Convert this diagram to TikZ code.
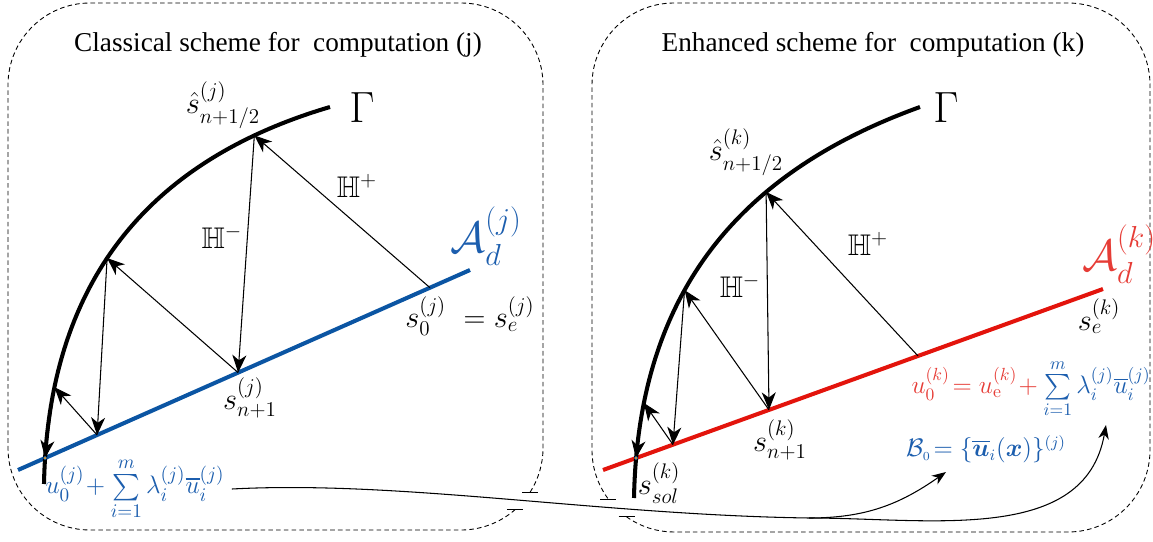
\documentclass[tikz,border=0pt]{standalone}
\usepackage{amsmath,amssymb}
\usepackage{fontspec}
\usepackage{xcolor}
\usepackage{tikz}
\usetikzlibrary{arrows.meta,calc}
\newfontfamily\titlefont{Liberation Serif}
\definecolor{lineblue}{HTML}{0B55A3}
\definecolor{textblue}{HTML}{1C5EAE}
\definecolor{linered}{HTML}{E3140C}
\definecolor{textred}{HTML}{E63C36}
\definecolor{dotorange}{HTML}{F0A020}

\begin{document}
\begin{tikzpicture}[x=0.02cm,y=-0.02cm,
    gamma/.style={line width=2.3pt},
    proj/.style={line width=0.6pt,-{Stealth[length=10pt,width=8pt,inset=3pt]}},
    link/.style={line width=0.6pt},
    linktip/.style={line width=0.6pt,-{Stealth[length=8pt,width=6pt,inset=2.5pt]}},
    boxline/.style={line width=0.5pt,dash pattern=on 2.6pt off 1.8pt},
    boxtick/.style={line width=0.5pt},
    lbl/.style={inner sep=0pt,font=\fontsize{17}{20}\selectfont},
    title/.style={inner sep=0pt,font=\titlefont\fontsize{15.5}{18}\selectfont}]
  \useasboundingbox (0,0) rectangle (1153,541);

  % dashed frames, cut where the link passes
  \coordinate (t1j) at (530.1,492.2);
  \coordinate (t2j) at (514.9,509.8);
  \coordinate (t1k) at (608.2,499);
  \coordinate (t2k) at (626.5,516.8);
  \draw[boxline] (t1j) arc[start angle=32.6,end angle=0,radius=82]
    -- (543,85) arc[start angle=0,end angle=-90,radius=82]
    -- (90,3) arc[start angle=-90,end angle=-180,radius=82]
    -- (8,448) arc[start angle=180,end angle=90,radius=82]
    -- (461,530) arc[start angle=90,end angle=48.9,radius=82];
  \draw[boxline] (t2k) arc[start angle=125.4,end angle=90,radius=82]
    -- (1068,532) arc[start angle=90,end angle=0,radius=82]
    -- (1150,85) arc[start angle=0,end angle=-90,radius=82]
    -- (674,3) arc[start angle=-90,end angle=-180,radius=82]
    -- (592,450) arc[start angle=180,end angle=143.3,radius=82];
  \foreach \p in {t1j,t2j,t1k,t2k}
    \draw[boxtick] ($(\p)+(-8,0)$) -- ($(\p)+(8,0)$);

  \node[title] (titlej) at (278,45) {Classical scheme for\ \ computation (j)};
  \node[title] (titlek) at (873,45) {Enhanced scheme for\ \ computation (k)};

  % computation (j)
  \coordinate (laj) at (18,470);
  \coordinate (lbj) at (470,270);
  \draw[lineblue,line width=2.3pt] (laj) -- (lbj);
  \draw[gamma] (44,484) .. controls (48,280) and (150,160) .. (330,107)
    coordinate[pos=0.17] (c3j) coordinate[pos=0.45] (c2j) coordinate[pos=0.85] (c1j);
  \foreach \name/\t in {l0j/0.9115, l1j/0.487, l2j/0.175, l3j/0.06}
    \coordinate (\name) at ($(laj)!\t!(lbj)$);
  \foreach \a/\b in {l0j/c1j, c1j/l1j, l1j/c2j, c2j/l2j, l2j/c3j, c3j/l3j}
    \draw[proj] (\a) -- (\b);
  \filldraw[fill=dotorange,draw=lineblue,line width=0.3pt] (l3j) circle (1pt);

  \node[lbl] (shatj) at (223,105) {$\hat{s}^{(j)}_{n+1/2}$};
  \node[lbl,font=\fontsize{23}{26}\selectfont] (gamj) at (362,108) {$\Gamma$};
  \node[lbl] (hpj) at (357,186) {$\mathbb{H}^+$};
  \node[lbl] (hmj) at (222,237) {$\mathbb{H}^-$};
  \node[lbl,font=\fontsize{26}{30}\selectfont,text=textblue] (adj) at (486,236) {$\mathcal{A}_d^{(j)}$};
  \node[lbl] (s0j) at (470,316) {$s_0^{(j)}\ = s_e^{(j)}$};
  \node[lbl] (snj) at (250,398) {$s_{n+1}^{(j)}$};
  \node[lbl,font=\fontsize{15}{18}\selectfont,text=textblue] (u0j) at (135,489)
    {$u_0^{(j)}\!+ \sum\limits_{i=1}^{m} \lambda_i^{(j)}\overline{u}_i^{(j)}$};

  % computation (k)
  \coordinate (lak) at (603,470);
  \coordinate (lbk) at (1103,289);
  \draw[linered,line width=2.3pt] (lak) -- (lbk);
  \draw[gamma] (634,498) .. controls (638,292) and (740,172) .. (920,107)
    coordinate[pos=0.165] (c3k) coordinate[pos=0.4] (c2k) coordinate[pos=0.665] (c1k);
  \foreach \name/\t in {l0k/0.63, l1k/0.332, l2k/0.14, l3k/0.066}
    \coordinate (\name) at ($(lak)!\t!(lbk)$);
  \foreach \a/\b in {l0k/c1k, c1k/l1k, l1k/c2k, c2k/l2k, l2k/c3k, c3k/l3k}
    \draw[proj] (\a) -- (\b);
  \filldraw[fill=dotorange,draw=lineblue,line width=0.3pt] (l3k) circle (1pt);

  \node[lbl] (shatk) at (746,152) {$\hat{s}^{(k)}_{n+1/2}$};
  \node[lbl,font=\fontsize{23}{26}\selectfont] (gamk) at (946,108) {$\Gamma$};
  \node[lbl] (hpk) at (868,244) {$\mathbb{H}^+$};
  \node[lbl] (hmk) at (740,286) {$\mathbb{H}^-$};
  \node[lbl,font=\fontsize{26}{30}\selectfont,text=textred] (adk) at (1119,254) {$\mathcal{A}_d^{(k)}$};
  \node[lbl] (sek) at (1099,316) {$s_e^{(k)}$};
  \node[lbl,font=\fontsize{14.5}{17}\selectfont] (u0k) at (1031,389)
    {$\color{textred}u_0^{(k)}\!= u_{\mathrm{e}}^{(k)}\!+ \color{textblue}\sum\limits_{i=1}^{m} \lambda_i^{(j)}\overline{u}_i^{(j)}$};
  \node[lbl,font=\fontsize{13.5}{16}\selectfont,text=textblue] (bk) at (986,449)
    {$\mathcal{B}_{\scriptscriptstyle 0}\!= \{\overline{\boldsymbol{u}}_i(\boldsymbol{x})\}^{(j)}$};
  \node[lbl] (snk) at (780,440) {$s_{n+1}^{(k)}$};
  \node[lbl] (solk) at (659,483) {$s_{sol}^{(k)}$};

  % link to the enhanced start
  \coordinate (split) at (809,518);
  \coordinate (tipb) at (946,472);
  \coordinate (tipu) at (1106,425);
  \draw[link] ([xshift=4pt]u0j.east) .. controls (400,480) and (600,515) .. (split);
  \draw[linktip] (split) to[out=0,in=-145] (tipb);
  \draw[linktip] (split) to[out=0,in=-100] (tipu);
\end{tikzpicture}
\end{document}
